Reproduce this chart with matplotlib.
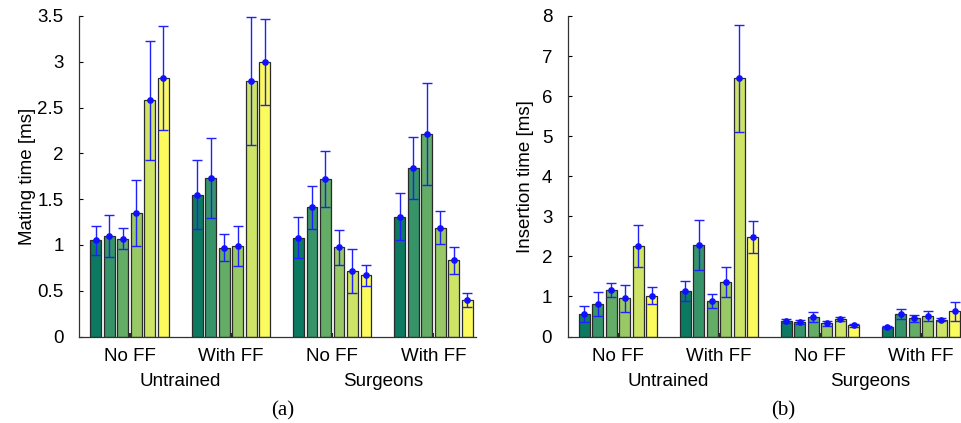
import numpy as np
import matplotlib
matplotlib.use("Agg")
import matplotlib.pyplot as plt
from matplotlib.ticker import FuncFormatter
import matplotlib.transforms as mtransforms

plt.rcParams['font.family'] = ['Liberation Sans', 'DejaVu Sans']

group_labels = ["No FF", "With FF", "No FF", "With FF"]
super_labels = ["Untrained", "Surgeons"]

# Mating time (a): rows = groups, columns = 6 bars
mating_mean = [
    [1.05, 1.10, 1.07, 1.35, 2.58, 2.82],
    [1.55, 1.73, 0.97, 0.99, 2.79, 3.00],
    [1.08, 1.41, 1.72, 0.975, 0.715, 0.67],
    [1.31, 1.84, 2.21, 1.19, 0.83, 0.40],
]
mating_err = [
    [0.16, 0.23, 0.11, 0.36, 0.65, 0.57],
    [0.38, 0.44, 0.15, 0.22, 0.70, 0.47],
    [0.22, 0.235, 0.31, 0.19, 0.24, 0.115],
    [0.255, 0.34, 0.555, 0.18, 0.15, 0.08],
]

# Insertion time (b)
insert_mean = [
    [0.56, 0.80, 1.16, 0.95, 2.26, 1.02],
    [1.14, 2.29, 0.89, 1.36, 6.44, 2.49],
    [0.385, 0.36, 0.485, 0.325, 0.425, 0.275],
    [0.23, 0.56, 0.45, 0.51, 0.42, 0.625],
]
insert_err = [
    [0.21, 0.30, 0.165, 0.33, 0.535, 0.215],
    [0.25, 0.62, 0.17, 0.38, 1.33, 0.40],
    [0.05, 0.06, 0.12, 0.07, 0.05, 0.035],
    [0.03, 0.12, 0.08, 0.13, 0.04, 0.24],
]

colors = ["#0b7a60", "#369468", "#63ad66", "#98c966", "#cee466", "#fbfb5e"]

W, H = 962, 423
fig = plt.figure(figsize=(W / 100, H / 100), dpi=100)

def px_axes(x0, x1, y_top, y_bot):
    return fig.add_axes([x0 / W, (H - y_bot) / H, (x1 - x0) / W, (y_bot - y_top) / H])

ax1 = px_axes(79, 476, 16, 336.5)
ax2 = px_axes(567.5, 567.5 + 3.92 * 101, 16, 336.5)

def draw(ax, mean, err, ymax, ylabel, ypad, letter, letter_x):
    mean = np.array(mean)
    err = np.array(err)
    ngroups, nbars = mean.shape
    x = np.arange(1, ngroups + 1)
    slot = 0.8 / nbars
    bw = slot * 0.8
    for j in range(nbars):
        xs = x - 0.4 + slot * (j + 0.5)
        ax.bar(xs, mean[:, j], width=bw, color=colors[j], edgecolor="#2a2a2a",
               linewidth=0.9, zorder=2)
        ax.errorbar(xs, mean[:, j], yerr=err[:, j], fmt="o", color="#1010ff",
                    ecolor="#2020ff", elinewidth=1.0, capsize=3.6, capthick=1.0,
                    markersize=3.8, zorder=3)
    ax.set_xlim(0.5, 4.42)
    ax.set_ylim(0, ymax)
    ax.set_xticks(x)
    ax.set_xticklabels(group_labels, fontsize=13.5)
    ax.yaxis.set_major_formatter(FuncFormatter(lambda v, p: "%g" % v))
    ax.tick_params(axis="y", direction="in", length=3, width=0.8, pad=11, labelsize=13.5)
    ax.tick_params(axis="x", direction="in", length=3, width=1.2, pad=8, labelsize=13.5)
    for s in ["top", "right"]:
        ax.spines[s].set_visible(False)
    for s in ["left", "bottom"]:
        ax.spines[s].set_color("#333333")
        ax.spines[s].set_linewidth(0.9)
    ax.set_ylabel(ylabel, fontsize=13.5, labelpad=ypad)
    trans = mtransforms.blended_transform_factory(ax.transData, ax.transAxes)
    ax.text(1.5, -0.139, super_labels[0], transform=trans, ha="center", va="center",
            fontsize=13.5)
    ax.text(3.5, -0.139, super_labels[1], transform=trans, ha="center", va="center",
            fontsize=13.5)
    fig.text(letter_x / W, (H - 411) / H, letter, ha="center", va="center",
             fontsize=15, family=["Liberation Serif", "DejaVu Serif"])

draw(ax1, mating_mean, mating_err, 3.5, "Mating time [ms]", 1, "(a)", 282.5)
draw(ax2, insert_mean, insert_err, 8, "Insertion time [ms]", 5.5, "(b)", 783)
ax1.set_yticks(np.arange(0, 3.51, 0.5))
ax2.set_yticks(np.arange(0, 8.1, 1))

fig.savefig("out.png", dpi=100)
